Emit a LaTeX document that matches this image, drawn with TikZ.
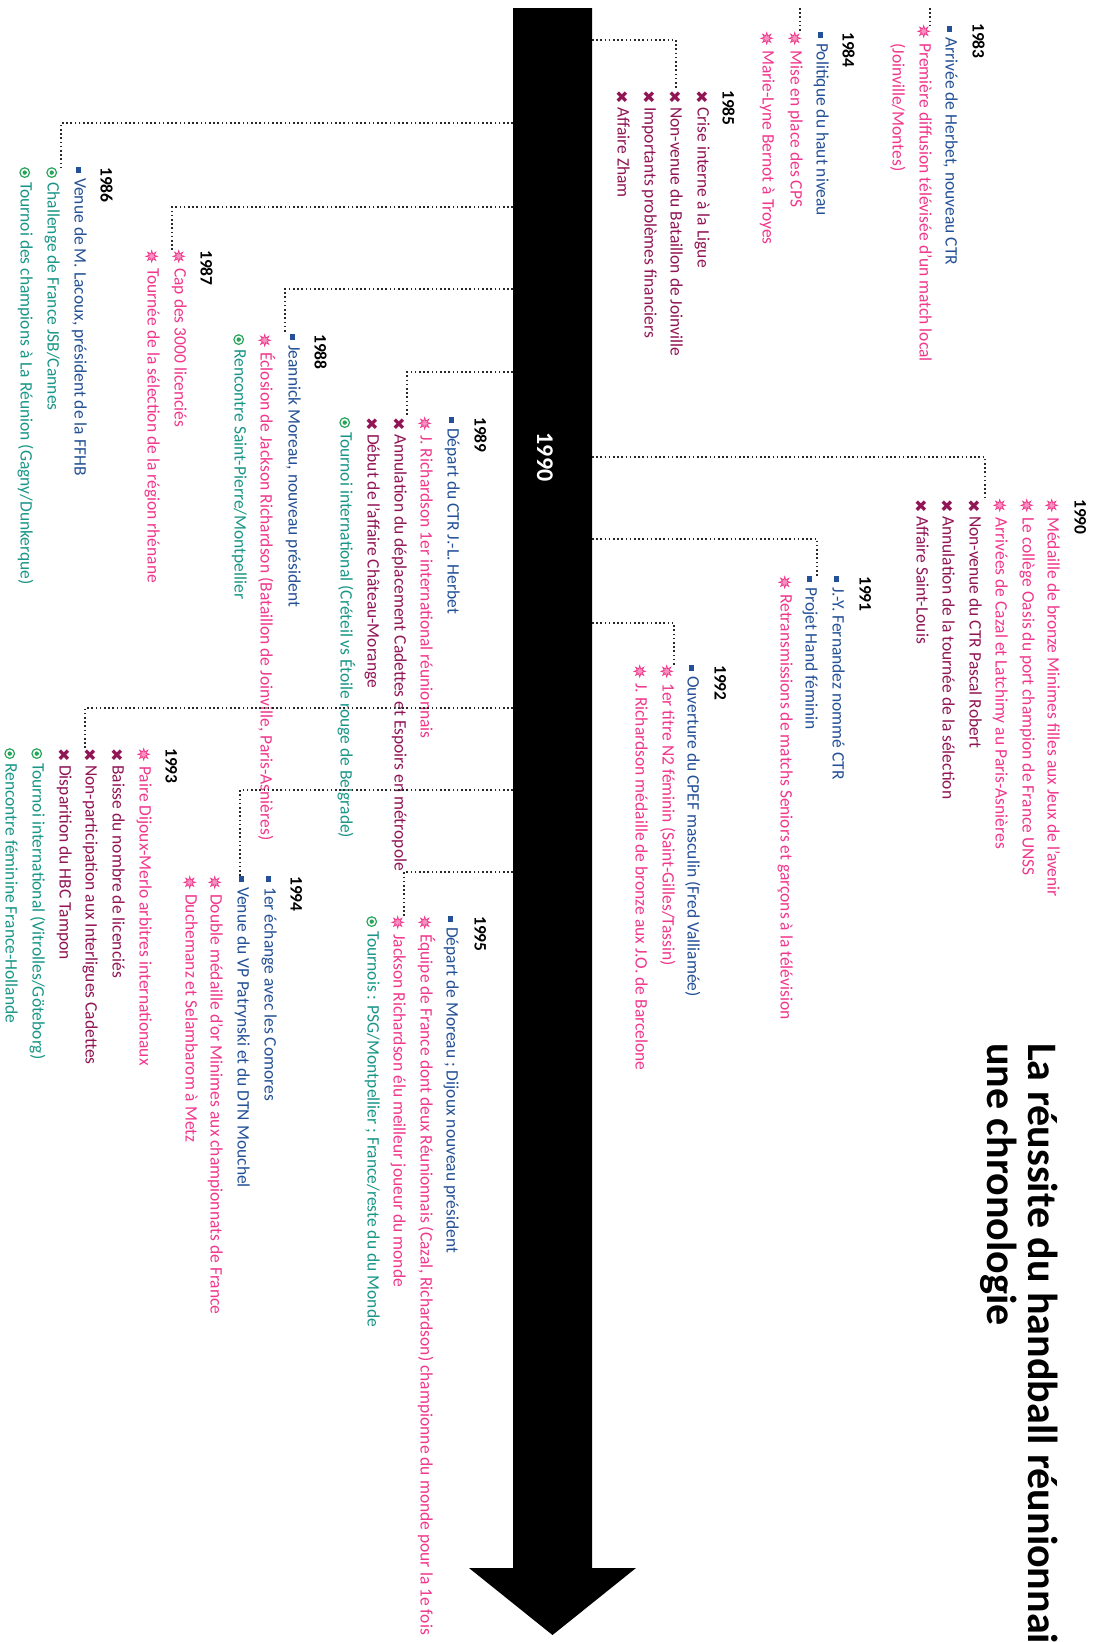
\documentclass[tikz,border=0pt]{standalone}
\usepackage{fontspec}
\setmainfont{Carlito}
\newfontfamily\dejavu{DejaVu Sans}
\usetikzlibrary{calc,shapes.geometric}
\definecolor{cblue}{RGB}{35,80,150}
\definecolor{cpink}{RGB}{240,55,140}
\definecolor{cmag}{RGB}{145,20,85}
\definecolor{cteal}{RGB}{25,150,135}
\definecolor{cgreen}{RGB}{40,165,90}
\definecolor{cdot}{RGB}{40,40,40}
\newcommand\cglyph[3]{\textcolor{#1}{\raisebox{\dimexpr 4.1pt-0.5\height+0.5\depth\relax}{\dejavu\fontsize{#2}{#2}\selectfont #3}}}
\newcommand\mkS{\makebox[11pt][l]{\textcolor{cblue}{\rule[1.3pt]{5.5pt}{5.5pt}}}}
\newcommand\mkP{\makebox[18pt][l]{\tikz[baseline=-4.1pt]{\node[star, anchor=center, star points=8, star point ratio=2.2, fill=cpink!55, draw=cpink, line width=0.7pt, minimum size=11.5pt, inner sep=0pt] {};}}}
\newcommand\mkX{\makebox[17pt][l]{\cglyph{cmag}{16}{✖}}}
\newcommand\mkO{\makebox[15pt][l]{\tikz[baseline=-4.1pt]{\draw[cgreen, line width=1.2pt] (0,0) circle (4.8pt); \fill[cgreen] (0,0) circle (2.2pt);}}}
\tikzset{
  it/.style={rotate=-90, anchor=mid west, inner sep=0pt, font=\fontsize{17.5}{21}\selectfont},
  bl/.style={it, text=cblue},
  pk/.style={it, text=cpink},
  mg/.style={it, text=cmag},
  gr/.style={it, text=cteal},
  yr/.style={rotate=-90, anchor=mid west, inner sep=0pt, font=\fontsize{17.5}{20}\selectfont\bfseries},
  conn/.style={draw=cdot, line width=1.6pt, dash pattern=on 1.6pt off 2.6pt},
}
\begin{document}
\begin{tikzpicture}[x=1pt,y=1pt]
\useasboundingbox (0,0) rectangle (1096,-1642);
\fill[white] (0,0) rectangle (1096,-1642);
\clip (0,0) rectangle (1096,-1642);

% timeline arrow
\fill[black] (513,-8) -- (592,-8) -- (592,-1568) -- (636,-1568) -- (552.5,-1635) -- (469,-1568) -- (513,-1568) -- cycle;
\node[rotate=-90, anchor=base, inner sep=0pt, text=white, font=\fontsize{24}{24}\selectfont\bfseries] (barlabel) at (537,-457) {1990};

% title
\node[rotate=-90, anchor=base west, inner sep=0pt, font=\fontsize{42}{42}\selectfont\bfseries] (title1) at (1028,-1043) {La réussite du handball réunionnais};
\node[rotate=-90, anchor=base west, inner sep=0pt, font=\fontsize{42}{42}\selectfont\bfseries] (title2) at (987,-1043) {une chronologie};

% 1983
\node[yr] (y83) at (975,-23) {1983};
\node[bl] (i83a) at (948,-26) {\mkS Arrivée de Herbet, nouveau CTR};
\node[pk] (i83b) at (922,-25) {\mkP Première diffusion télévisée d'un match local};
\node[pk] (i83c) at (895,-43) {(Joinville/Montes)};
% 1984
\node[yr] (y84) at (845,-32) {1984};
\node[bl] (i84a) at (819,-32) {\mkS Politique du haut niveau};
\node[pk] (i84b) at (793,-32) {\mkP Mise en place des CPS};
\node[pk] (i84c) at (765,-32) {\mkP Marie-Lyne Bernot à Troyes};
% 1985
\node[yr] (y85) at (725,-90) {1985};
\node[mg] (i85a) at (700,-90) {\mkX Crise interne à la Ligue};
\node[mg] (i85b) at (673,-90) {\mkX Non-venue du Bataillon de Joinville};
\node[mg] (i85c) at (647,-90) {\mkX Importants problèmes financiers};
\node[mg] (i85d) at (620,-90) {\mkX Affaire Zham};
% 1986
\node[yr] (y86) at (103,-167) {1986};
\node[bl] (i86a) at (77,-167) {\mkS Venue de M. Lacoux, président de la FFHB};
\node[gr] (i86b) at (50,-167) {\mkO Challenge de France JSB/Cannes};
\node[gr] (i86c) at (23,-167) {\mkO Tournoi des champions à La Réunion (Gagny/Dunkerque)};
% 1987
\node[yr] (y87) at (203,-250) {1987};
\node[pk] (i87a) at (177,-250) {\mkP Cap des 3000 licenciés};
\node[pk] (i87b) at (150,-250) {\mkP Tournée de la sélection de la région rhénane};
% 1988
\node[yr] (y88) at (317,-334) {1988};
\node[bl] (i88a) at (291,-334) {\mkS Jeannick Moreau, nouveau président};
\node[pk] (i88b) at (263,-334) {\mkP Éclosion de Jackson Richardson (Bataillon de Joinville, Paris-Asnières)};
\node[gr] (i88c) at (237,-334) {\mkO Rencontre Saint-Pierre/Montpellier};
% 1989
\node[yr] (y89) at (477,-417) {1989};
\node[bl] (i89a) at (450,-417) {\mkS Départ du CTR J.-L. Herbet};
\node[pk] (i89b) at (423,-417) {\mkP J. Richardson 1er international réunionnais};
\node[mg] (i89c) at (397,-417) {\mkX Annulation du déplacement Cadettes et Espoirs en métropole};
\node[mg] (i89d) at (370,-417) {\mkX Début de l'affaire Château-Morange};
\node[gr] (i89e) at (343,-417) {\mkO Tournoi international (Créteil vs Étoile rouge de Belgrade)};
% 1990
\node[yr] (y90) at (1077,-499) {1990};
\node[pk] (i90a) at (1050,-499) {\mkP Médaille de bronze Minimes filles aux Jeux de l'avenir};
\node[pk] (i90b) at (1025,-499) {\mkP Le collège Oasis du port champion de France UNSS};
\node[pk] (i90c) at (998,-499) {\mkP Arrivées de Cazal et Latchimy au Paris-Asnières};
\node[mg] (i90d) at (972,-499) {\mkX Non-venue du CTR Pascal Robert};
\node[mg] (i90e) at (945,-499) {\mkX Annulation de la tournée de la sélection};
\node[mg] (i90f) at (919,-499) {\mkX Affaire Saint-Louis};
% 1991
\node[yr] (y91) at (862,-576) {1991};
\node[bl] (i91a) at (835,-576) {\mkS J.-Y. Fernandez nommé CTR};
\node[bl] (i91b) at (808,-576) {\mkS Projet Hand féminin};
\node[pk] (i91c) at (783,-576) {\mkP Retransmissions de matchs Seniors et garçons à la télévision};
% 1992
\node[yr] (y92) at (717,-665) {1992};
\node[bl] (i92a) at (690,-665) {\mkS Ouverture du CPEF masculin (Fred Valliamée)};
\node[pk] (i92b) at (665,-665) {\mkP 1er titre N2 féminin (Saint-Gilles/Tassin)};
\node[pk] (i92c) at (638,-665) {\mkP J. Richardson médaille de bronze aux J.O. de Barcelone};
% 1993
\node[yr] (y93) at (168,-748) {1993};
\node[pk] (i93a) at (142,-748) {\mkP Paire Dijoux-Merlo arbitres internationaux};
\node[mg] (i93b) at (115,-748) {\mkX Baisse du nombre de licenciés};
\node[mg] (i93c) at (88,-748) {\mkX Non-participation aux Interligues Cadettes};
\node[mg] (i93d) at (62,-748) {\mkX Disparition du HBC Tampon};
\node[gr] (i93e) at (35,-748) {\mkO Tournoi international (Vitrolles/Göteborg)};
\node[gr] (i93f) at (8,-748) {\mkO Rencontre féminine France-Hollande};
% 1994
\node[yr] (y94) at (293,-876) {1994};
\node[bl] (i94a) at (267,-876) {\mkS 1er échange avec les Comores};
\node[bl] (i94b) at (240,-876) {\mkS Venue du VP Patrynski et du DTN Mouchel};
\node[pk] (i94c) at (213,-876) {\mkP Double médaille d'or Minimes aux championnats de France};
\node[pk] (i94d) at (188,-876) {\mkP Duchemanz et Selambarom à Metz};
% 1995
\node[yr] (y95) at (477,-916) {1995};
\node[bl] (i95a) at (449,-916) {\mkS Départ de Moreau ; Dijoux nouveau président};
\node[pk] (i95b) at (423,-916) {\mkP Équipe de France dont deux Réunionnais (Cazal, Richardson) championne du monde pour la 1e fois};
\node[pk] (i95c) at (396,-916) {\mkP Jackson Richardson élu meilleur joueur du monde};
\node[gr] (i95d) at (370,-916) {\mkO Tournois : PSG/Montpellier ; France/reste du du Monde};

% attachment points on the bar
\coordinate (t83) at (930,-8);
\coordinate (t84) at (800,-8);
\coordinate (b85) at (592,-40);
\coordinate (b86) at (513,-123);
\coordinate (b87) at (513,-207);
\coordinate (b88) at (513,-289);
\coordinate (b89) at (513,-372);
\coordinate (b90) at (592,-457);
\coordinate (b91) at (592,-539);
\coordinate (b92) at (592,-623);
\coordinate (b93) at (513,-708);
\coordinate (b94) at (513,-790);
\coordinate (b95) at (513,-872);

% connectors
\draw[conn] (t83) -- (t83 |- i83b.west);
\draw[conn] (t84) -- (t84 |- i84b.west);
\draw[conn] (b85) -| (i85b.west);
\draw[conn] (b86) -| ([xshift=9pt]i86b.west);
\draw[conn] (b87) -| ([xshift=-7pt]i87a.west);
\draw[conn] (b88) -| ([xshift=-8pt]i88a.west);
\draw[conn] (b89) -| ([xshift=8pt]i89c.west);
\draw[conn] (b90) -| ([xshift=10pt]i90d.west);
\draw[conn] (b91) -| ([xshift=7pt]i91b.west);
\draw[conn] (b92) -| ([xshift=6pt]i92b.west);
\draw[conn] (b93) -| ([xshift=-5pt]i93c.west);
\draw[conn] (b94) -| ([xshift=-2pt]i94b.west);
\draw[conn] (b95) -| ([xshift=6pt]i95c.west);
\end{tikzpicture}
\end{document}
